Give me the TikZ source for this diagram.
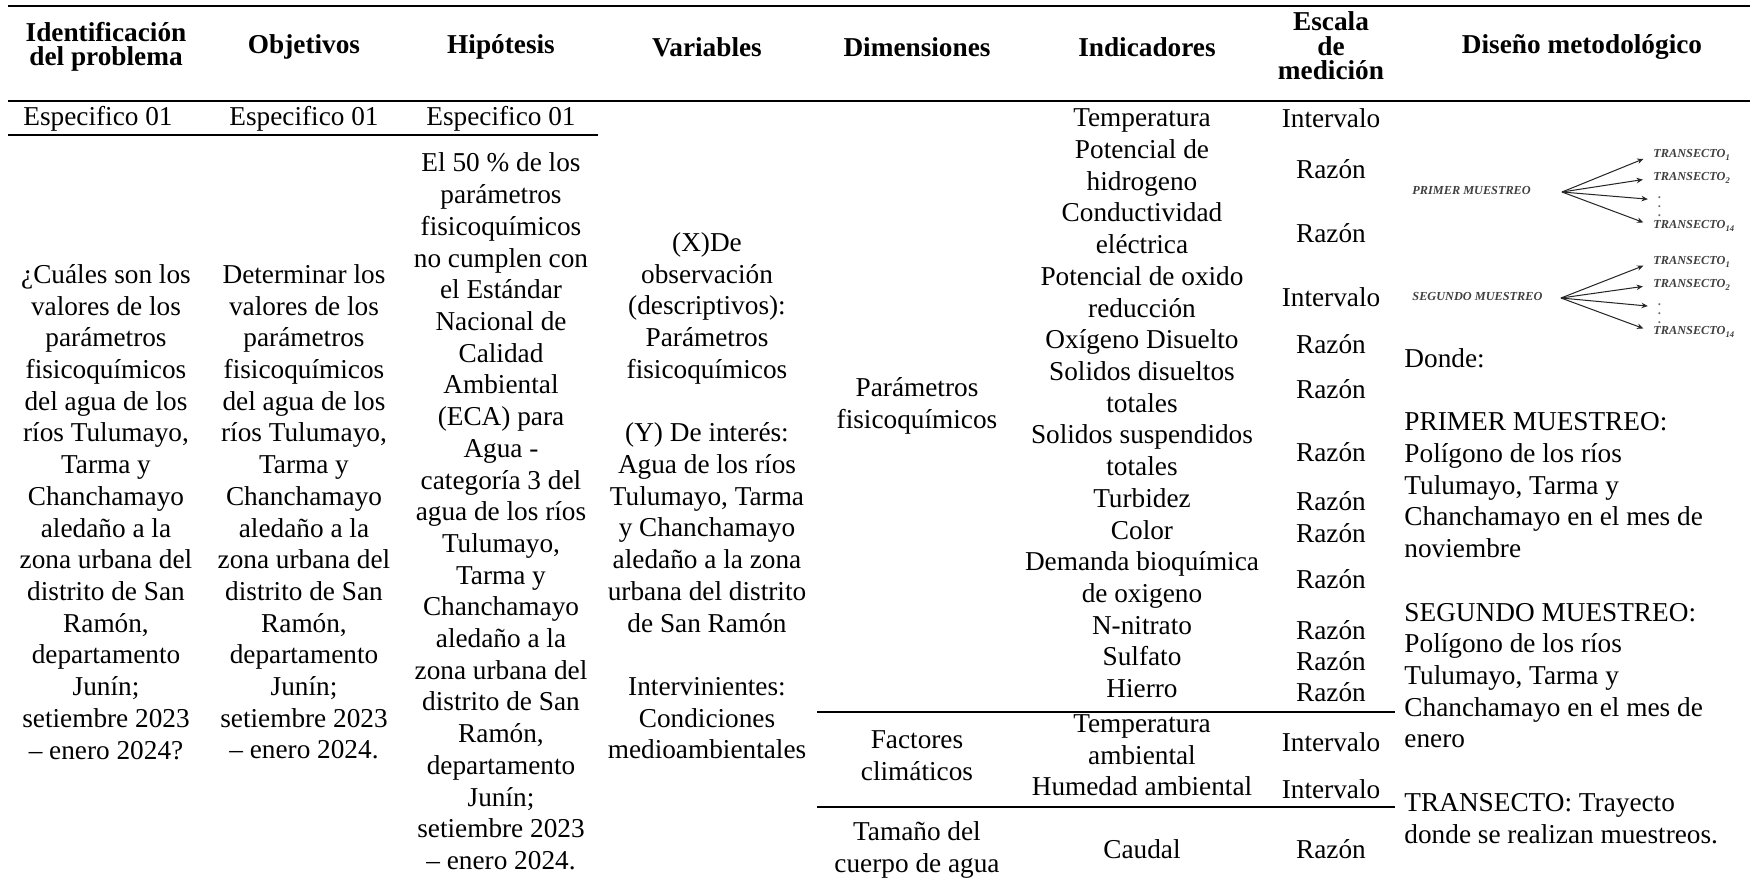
\documentclass[tikz,border=0pt]{standalone}
\usepackage{fontspec}
\setmainfont{Liberation Serif}
\usetikzlibrary{arrows.meta, positioning}

\tikzset{
  cell/.style={align=center, inner sep=0pt, font=\fontsize{12}{13.95}\selectfont,
    execute at begin node=\strut, execute at end node=\strut},
  head/.style={align=center, inner sep=0pt, font=\fontsize{12}{10.8}\selectfont\bfseries},
  rule/.style={line width=1.1pt},
  thinrule/.style={line width=0.8pt},
  smalllbl/.style={inner sep=0pt, anchor=west, font=\fontsize{5.4}{6}\selectfont\bfseries\itshape, text=black!75},
  fan/.style={draw=black!85, line width=0.45pt, shorten >=4.5pt, -{Stealth[length=2.8pt,width=2.4pt]}}
}

\begin{document}
\begin{tikzpicture}[x=0.44pt, y=-0.44pt]
  \useasboundingbox (0,0) rectangle (1750,891);

  % rules
  \draw[rule] (8,6) -- (1750,6);
  \draw[rule] (8,101) -- (1750,101);
  \draw[thinrule] (8,135) -- (598,135);
  \draw[thinrule] (817,712) -- (1395,712);
  \draw[thinrule] (817,807) -- (1395,807);

  % header row
  \node[head] (h1) at (106,47) {Identificación\\del problema};
  \node[head] (h2) at (304,47) {Objetivos};
  \node[head] (h3) at (501,47) {Hipótesis};
  \node[head] (h4) at (707,47) {Variables};
  \node[head] (h5) at (917,47) {Dimensiones};
  \node[head] (h6) at (1147,47) {Indicadores};
  \node[head] (h7) at (1331,46) {Escala\\de\\medición};
  \node[head] (h8) at (1582,47) {Diseño metodológico};

  \node[cell] (e1) at (98,119) {Especifico 01};
  \node[cell] (e2) at (304,119) {Especifico 01};
  \node[cell] (e3) at (501,119) {Especifico 01};

  % body columns
  \node[cell] (c1) at (106,516.5) {¿Cuáles son los\\valores de los\\parámetros\\fisicoquímicos\\del agua de los\\ríos Tulumayo,\\Tarma y\\Chanchamayo\\aledaño a la\\zona urbana del\\distrito de San\\Ramón,\\departamento\\Junín;\\setiembre 2023\\– enero 2024?};
  \node[cell] (c2) at (304,516.5) {Determinar los\\valores de los\\parámetros\\fisicoquímicos\\del agua de los\\ríos Tulumayo,\\Tarma y\\Chanchamayo\\aledaño a la\\zona urbana del\\distrito de San\\Ramón,\\departamento\\Junín;\\setiembre 2023\\– enero 2024.};
  \node[cell] (c3) at (501,516) {El 50 \% de los\\parámetros\\fisicoquímicos\\no cumplen con\\el Estándar\\Nacional de\\Calidad\\Ambiental\\(ECA) para\\Agua -\\categoría 3 del\\agua de los ríos\\Tulumayo,\\Tarma y\\Chanchamayo\\aledaño a la\\zona urbana del\\distrito de San\\Ramón,\\departamento\\Junín;\\setiembre 2023\\– enero 2024.};
  \node[cell] (c4) at (707,500.5) {(X)De\\observación\\(descriptivos):\\Parámetros\\fisicoquímicos\\\strut\\(Y) De interés:\\Agua de los ríos\\Tulumayo, Tarma\\y Chanchamayo\\aledaño a la zona\\urbana del distrito\\de San Ramón\\\strut\\Intervinientes:\\Condiciones\\medioambientales};

  \node[cell] (dim1) at (917,407.5) {Parámetros\\fisicoquímicos};
  \node[cell] (dim2) at (917,760) {Factores\\climáticos};
  \node[cell] (dim3) at (917,851.5) {Tamaño del\\cuerpo de agua};

  \node[cell] (ind1) at (1142,408) {Temperatura\\Potencial de\\hidrogeno\\Conductividad\\eléctrica\\Potencial de oxido\\reducción\\Oxígeno Disuelto\\Solidos disueltos\\totales\\Solidos suspendidos\\totales\\Turbidez\\Color\\Demanda bioquímica\\de oxigeno\\N-nitrato\\Sulfato\\Hierro};
  \node[cell] (ind2) at (1142,760) {Temperatura\\ambiental\\Humedad ambiental};
  \node[cell] (ind3) at (1142,852) {Caudal};

  % escala de medicion
  \node[cell] (s1) at (1331,121) {Intervalo};
  \node[cell] (s2) at (1331,172) {Razón};
  \node[cell] (s3) at (1331,236) {Razón};
  \node[cell] (s4) at (1331,300) {Intervalo};
  \node[cell] (s5) at (1331,347) {Razón};
  \node[cell] (s6) at (1331,392) {Razón};
  \node[cell] (s7) at (1331,455) {Razón};
  \node[cell] (s8) at (1331,504) {Razón};
  \node[cell] (s9) at (1331,536) {Razón};
  \node[cell] (s10) at (1331,582) {Razón};
  \node[cell] (s11) at (1331,633) {Razón};
  \node[cell] (s12) at (1331,664) {Razón};
  \node[cell] (s13) at (1331,695) {Razón};
  \node[cell] (s14) at (1331,745) {Intervalo};
  \node[cell] (s15) at (1331,792) {Intervalo};
  \node[cell] (s16) at (1331,852) {Razón};

  % diseno metodologico
  \node[cell, align=left, anchor=west] (dis) at (1404,600.5) {Donde:\\\strut\\PRIMER MUESTREO:\\Polígono de los ríos\\Tulumayo, Tarma y\\Chanchamayo en el mes de\\noviembre\\\strut\\SEGUNDO MUESTREO:\\Polígono de los ríos\\Tulumayo, Tarma y\\Chanchamayo en el mes de\\enero\\\strut\\TRANSECTO: Trayecto\\donde se realizan muestreos.};

  \node[smalllbl] (pm) at (1412,190) {PRIMER MUESTREO};
  \coordinate (f1) at (1562,192);
  \node[smalllbl] (t11) at (1653,155) {TRANSECTO\textsubscript{1}};
  \node[smalllbl] (t12) at (1653,178) {TRANSECTO\textsubscript{2}};
  \node[smalllbl, text=black!60] (td1) at (1658,200) {$\vdots$};
  \node[smalllbl] (t14) at (1653,226) {TRANSECTO\textsubscript{14}};
  \draw[fan] (f1) -- (t11.west);
  \draw[fan] (f1) -- (t12.west);
  \draw[fan] (f1) -- (td1.west);
  \draw[fan] (f1) -- (t14.west);

  \node[smalllbl] (sm) at (1412,296) {SEGUNDO MUESTREO};
  \coordinate (f2) at (1561,298);
  \node[smalllbl] (t21) at (1653,262) {TRANSECTO\textsubscript{1}};
  \node[smalllbl] (t22) at (1653,285) {TRANSECTO\textsubscript{2}};
  \node[smalllbl, text=black!60] (td2) at (1658,307) {$\vdots$};
  \node[smalllbl] (t24) at (1653,332) {TRANSECTO\textsubscript{14}};
  \draw[fan] (f2) -- (t21.west);
  \draw[fan] (f2) -- (t22.west);
  \draw[fan] (f2) -- (td2.west);
  \draw[fan] (f2) -- (t24.west);
\end{tikzpicture}
\end{document}
